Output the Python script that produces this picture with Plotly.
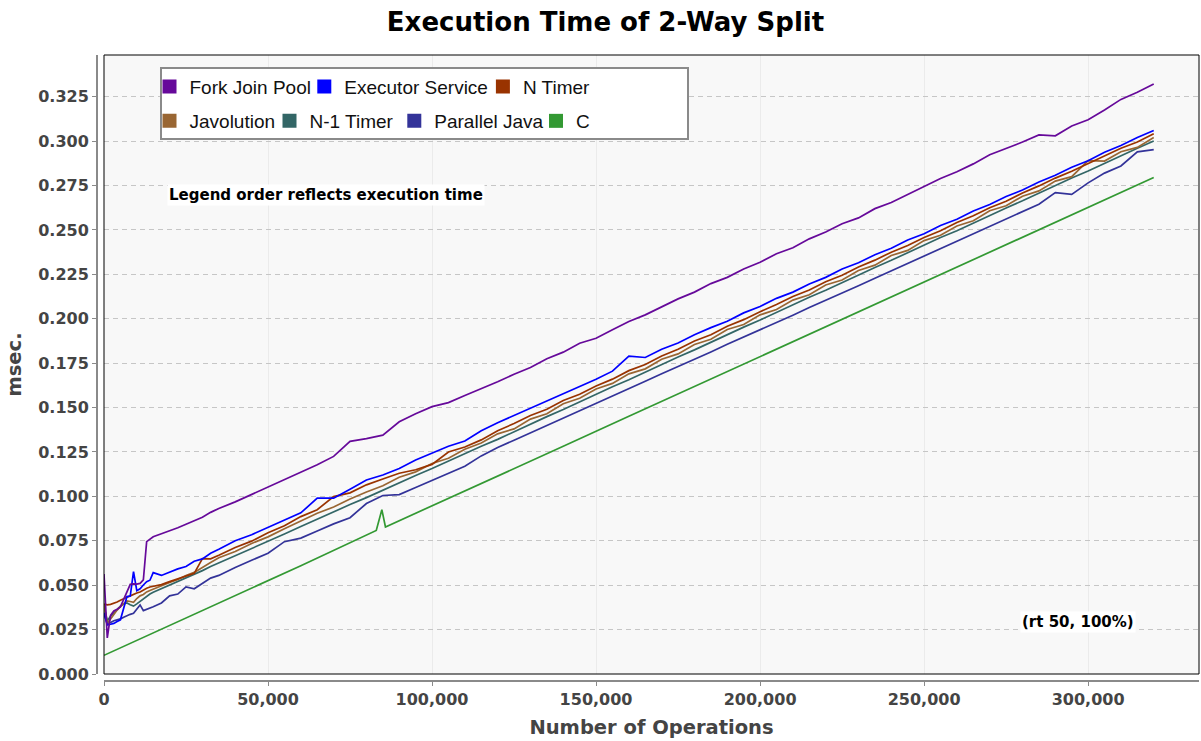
import plotly.graph_objects as go

# ---------------- data ----------------
X_OPS = [0, 1000, 2000, 3000, 4000, 5000, 6000, 7000, 8000, 9000, 10000, 11000,
         12000, 13000, 14000, 15000, 17500, 20000, 22500, 25000, 27500, 30000, 32500,
         35000, 40000, 45000, 50000, 55000, 60000, 65000, 70000, 75000, 80000,
         85000, 90000, 95000, 100000, 105000, 110000, 115000, 120000, 125000, 130000,
         135000, 140000, 145000, 150000, 155000, 160000, 165000, 170000, 175000, 180000,
         185000, 190000, 195000, 200000, 205000, 210000, 215000, 220000, 225000, 230000,
         235000, 240000, 245000, 250000, 255000, 260000, 265000, 270000, 275000, 280000,
         285000, 290000, 295000, 300000, 305000, 310000, 315000, 320000]

FORK_JOIN_POOL = [0.0563, 0.0203, 0.0330, 0.0355, 0.0365, 0.0378, 0.0420, 0.0460, 0.0505, 0.0507, 0.0506, 0.0510,
                  0.0530, 0.0745, 0.0760, 0.0773, 0.0790, 0.0805, 0.0823, 0.0843, 0.0862, 0.0883, 0.0910,
                  0.0932, 0.0969, 0.1011, 0.1054, 0.1096, 0.1140, 0.1178, 0.1225, 0.1310, 0.1325,
                  0.1345, 0.1420, 0.1465, 0.1505, 0.1528, 0.1568, 0.1605, 0.1645, 0.1688, 0.1726,
                  0.1775, 0.1812, 0.1862, 0.1890, 0.1938, 0.1985, 0.2022, 0.2066, 0.2112, 0.2150,
                  0.2198, 0.2233, 0.2280, 0.2318, 0.2366, 0.2400, 0.2450, 0.2488, 0.2535, 0.2568,
                  0.2620, 0.2655, 0.2700, 0.2742, 0.2790, 0.2828, 0.2872, 0.2923, 0.2958, 0.2995,
                  0.3035, 0.3030, 0.3085, 0.3120, 0.3175, 0.3235, 0.3275, 0.3322]

EXECUTOR_SERVICE = [0.0345, 0.0276, 0.0280, 0.0285, 0.0295, 0.0305, 0.0370, 0.0436, 0.0439, 0.0576, 0.0469, 0.0480,
                    0.0501, 0.0520, 0.0528, 0.0571, 0.0555, 0.0575, 0.0592, 0.0605, 0.0635, 0.0648, 0.0680,
                    0.0702, 0.0750, 0.0784, 0.0825, 0.0866, 0.0907, 0.0990, 0.0990, 0.1040, 0.1092,
                    0.1120, 0.1157, 0.1205, 0.1245, 0.1282, 0.1312, 0.1370, 0.1415, 0.1456, 0.1497,
                    0.1540, 0.1577, 0.1622, 0.1659, 0.1705, 0.1790, 0.1782, 0.1828, 0.1864, 0.1910,
                    0.1950, 0.1986, 0.2033, 0.2069, 0.2115, 0.2150, 0.2196, 0.2233, 0.2280, 0.2315,
                    0.2360, 0.2397, 0.2443, 0.2479, 0.2525, 0.2560, 0.2607, 0.2643, 0.2688, 0.2725,
                    0.2770, 0.2808, 0.2853, 0.2890, 0.2938, 0.2975, 0.3020, 0.3060]

N_TIMER = [0.0394, 0.0389, 0.0392, 0.0398, 0.0405, 0.0415, 0.0425, 0.0432, 0.0440, 0.0450, 0.0456, 0.0462,
           0.0475, 0.0483, 0.0490, 0.0494, 0.0503, 0.0520, 0.0535, 0.0550, 0.0567, 0.0650, 0.0648,
           0.0668, 0.0712, 0.0748, 0.0795, 0.0835, 0.0886, 0.0925, 0.0999, 0.1020, 0.1065,
           0.1098, 0.1130, 0.1150, 0.1180, 0.1250, 0.1278, 0.1318, 0.1370, 0.1410, 0.1455,
           0.1490, 0.1540, 0.1575, 0.1622, 0.1660, 0.1708, 0.1742, 0.1790, 0.1828, 0.1875,
           0.1910, 0.1958, 0.1995, 0.2040, 0.2080, 0.2125, 0.2162, 0.2208, 0.2245, 0.2292,
           0.2330, 0.2375, 0.2412, 0.2458, 0.2495, 0.2542, 0.2580, 0.2625, 0.2662, 0.2708,
           0.2748, 0.2792, 0.2830, 0.2873, 0.2915, 0.2960, 0.2995, 0.3042]

JAVOLUTION = [0.0390, 0.0285, 0.0310, 0.0338, 0.0360, 0.0380, 0.0395, 0.0411, 0.0408, 0.0404, 0.0425, 0.0440,
              0.0448, 0.0462, 0.0470, 0.0478, 0.0495, 0.0515, 0.0532, 0.0555, 0.0572, 0.0598, 0.0628,
              0.0655, 0.0690, 0.0735, 0.0772, 0.0818, 0.0860, 0.0905, 0.0940, 0.0985, 0.1025,
              0.1060, 0.1108, 0.1138, 0.1185, 0.1215, 0.1265, 0.1300, 0.1352, 0.1380, 0.1435,
              0.1465, 0.1522, 0.1552, 0.1605, 0.1636, 0.1690, 0.1718, 0.1772, 0.1802, 0.1855,
              0.1885, 0.1940, 0.1968, 0.2022, 0.2052, 0.2105, 0.2135, 0.2190, 0.2218, 0.2272,
              0.2302, 0.2356, 0.2385, 0.2440, 0.2470, 0.2522, 0.2552, 0.2608, 0.2636, 0.2690,
              0.2720, 0.2775, 0.2800, 0.2890, 0.2888, 0.2940, 0.2965, 0.3020]

N_MINUS_1_TIMER = [0.0385, 0.0300, 0.0325, 0.0345, 0.0365, 0.0382, 0.0395, 0.0400, 0.0390, 0.0382, 0.0395, 0.0410,
                   0.0425, 0.0440, 0.0450, 0.0460, 0.0480, 0.0500, 0.0520, 0.0540, 0.0562, 0.0582, 0.0605,
                   0.0625, 0.0667, 0.0706, 0.0749, 0.0788, 0.0830, 0.0872, 0.0911, 0.0954, 0.0993,
                   0.1036, 0.1075, 0.1118, 0.1157, 0.1200, 0.1239, 0.1282, 0.1321, 0.1365, 0.1405,
                   0.1449, 0.1489, 0.1533, 0.1573, 0.1617, 0.1657, 0.1701, 0.1741, 0.1785, 0.1825,
                   0.1869, 0.1909, 0.1953, 0.1993, 0.2037, 0.2077, 0.2121, 0.2161, 0.2205, 0.2245,
                   0.2289, 0.2329, 0.2373, 0.2413, 0.2457, 0.2496, 0.2540, 0.2580, 0.2624, 0.2664,
                   0.2708, 0.2748, 0.2792, 0.2832, 0.2876, 0.2916, 0.2960, 0.3001]

PARALLEL_JAVA = [0.0342, 0.0282, 0.0290, 0.0300, 0.0305, 0.0310, 0.0320, 0.0330, 0.0336, 0.0342, 0.0365, 0.0389,
                 0.0357, 0.0363, 0.0370, 0.0379, 0.0400, 0.0440, 0.0450, 0.0490, 0.0480, 0.0510, 0.0540,
                 0.0555, 0.0600, 0.0640, 0.0680, 0.0745, 0.0765, 0.0805, 0.0845, 0.0880, 0.0960,
                 0.1005, 0.1010, 0.1050, 0.1090, 0.1130, 0.1170, 0.1228, 0.1275, 0.1316, 0.1357,
                 0.1400, 0.1440, 0.1483, 0.1523, 0.1566, 0.1606, 0.1648, 0.1690, 0.1730, 0.1773,
                 0.1813, 0.1856, 0.1896, 0.1938, 0.1980, 0.2020, 0.2063, 0.2103, 0.2146, 0.2186,
                 0.2228, 0.2270, 0.2312, 0.2354, 0.2395, 0.2438, 0.2478, 0.2520, 0.2562, 0.2603,
                 0.2645, 0.2710, 0.2700, 0.2765, 0.2820, 0.2860, 0.2940, 0.2952]

C_OPS = [0, 20000, 40000, 60000, 83000, 84700, 85800, 100000, 120000, 140000, 160000,
         180000, 200000, 225000, 250000, 280000, 300000, 320000]
C_MS = [0.0105, 0.0273, 0.0441, 0.0610, 0.0808, 0.0925, 0.0828, 0.0946, 0.1114, 0.1282, 0.1451,
        0.1619, 0.1787, 0.1998, 0.2208, 0.2460, 0.2628, 0.2795]

NAMES = ["Fork Join Pool", "Executor Service", "N Timer", "Javolution",
         "N-1 Timer", "Parallel Java", "C"]
COLORS = ["#66099a", "#0000ff", "#993300", "#996633", "#336666", "#333399", "#339933"]
Y_TICKS = [0.000, 0.025, 0.050, 0.075, 0.100, 0.125, 0.150, 0.175,
           0.200, 0.225, 0.250, 0.275, 0.300, 0.325]
X_TICKS = [0, 50000, 100000, 150000, 200000, 250000, 300000]

# ---------------- geometry (pixels of the 1201x741 page) ----------------
W, H = 1201, 741
ML, MR, MT, MB = 97, 2, 55, 60
PW, PH = W - ML - MR, H - MT - MB


def px_x(p):
    return (p - ML) / PW


def px_y(p):
    return (H - MB - p) / PH


series_x = [X_OPS] * 6 + [C_OPS]
series_y = [FORK_JOIN_POOL, EXECUTOR_SERVICE, N_TIMER, JAVOLUTION,
            N_MINUS_1_TIMER, PARALLEL_JAVA, C_MS]

fig = go.Figure()

# lines: last series drawn first so the first series sits on top
for i in reversed(range(len(NAMES))):
    fig.add_trace(go.Scatter(
        x=series_x[i], y=series_y[i], mode="lines", name=NAMES[i],
        line=dict(color=COLORS[i], width=1.7), showlegend=False,
        hoverinfo="x+y+name"))

# legend entries (square swatches), one legend per entry to reproduce the layout
LEG_SQ_X = [172.5, 327.3, 505.9, 172.5, 292.5, 417.3, 559.0]
LEG_ROW_Y = [86.7, 86.7, 86.7, 121.0, 121.0, 121.0, 121.0]
legend_layouts = {}
for i, name in enumerate(NAMES):
    key = "legend" if i == 0 else f"legend{i + 1}"
    fig.add_trace(go.Scatter(
        x=[None], y=[None], mode="markers", name=name,
        marker=dict(symbol="square", size=14, color=COLORS[i], line=dict(width=0)),
        legend=key, showlegend=True))
    legend_layouts[key] = dict(
        x=px_x(LEG_SQ_X[i] - 23), y=px_y(LEG_ROW_Y[i]),
        xanchor="left", yanchor="middle", orientation="h",
        bgcolor="rgba(0,0,0,0)", borderwidth=0, itemwidth=30,
        font=dict(family="Liberation Sans, Arial, sans-serif", size=19, color="#111111"),
        itemclick=False, itemdoubleclick=False)

tick_font = dict(family="DejaVu Sans", size=16, color="#444444", weight="bold")
title_font = dict(family="DejaVu Sans", size=19.5, color="#444444", weight="bold")

fig.update_layout(
    width=W, height=H,
    margin=dict(l=ML, r=MR, t=MT, b=MB, pad=0),
    paper_bgcolor="white",
    plot_bgcolor="#f8f8f8",
    title=dict(text="Execution Time of 2-Way Split", xref="container", yref="container",
               x=605.5 / W, y=1 - 22 / H, xanchor="center", yanchor="middle",
               font=dict(family="DejaVu Sans", size=26, color="#000000", weight="bold")),
    xaxis=dict(
        domain=[px_x(104), 1], anchor="free", position=0,
        range=[0, 333800], tickmode="array", tickvals=X_TICKS, tickformat=",d",
        showline=True, linecolor="#8a8a8a", linewidth=2,
        ticks="outside", ticklen=4, tickwidth=1, tickcolor="#8a8a8a",
        showgrid=True, gridcolor="#ebebeb", gridwidth=1, zeroline=False,
        tickfont=tick_font,
        title=dict(text="Number of Operations", font=title_font, standoff=11)),
    yaxis=dict(
        domain=[px_y(674), 1], anchor="free", position=0,
        range=[0, 0.3485], tickmode="array", tickvals=Y_TICKS, tickformat=".3f",
        showline=True, linecolor="#8a8a8a", linewidth=2,
        ticks="outside", ticklen=4, tickwidth=1, tickcolor="#8a8a8a",
        showgrid=True, gridcolor="#c6c6c6", gridwidth=1, griddash="5px,4px",
        zeroline=False, tickfont=tick_font,
        title=dict(text="msec.", font=title_font, standoff=10)),
    shapes=[
        dict(type="rect", xref="x domain", yref="y domain", x0=0, x1=1, y0=0, y1=1,
             line=dict(color="#000000", width=1), fillcolor="rgba(0,0,0,0)", layer="above"),
        dict(type="rect", xref="paper", yref="paper",
             x0=px_x(161), x1=px_x(688), y0=px_y(139), y1=px_y(68),
             line=dict(color="#8a8a8a", width=2), fillcolor="white", layer="above"),
    ],
    annotations=[
        dict(text="Legend order reflects execution time", xref="paper", yref="paper",
             x=px_x(326), y=px_y(195), xanchor="center", yanchor="middle", showarrow=False,
             bgcolor="white", font=dict(family="DejaVu Sans", size=15, color="#000000", weight="bold")),
        dict(text="(rt 50, 100%)", xref="paper", yref="paper",
             x=px_x(1078), y=px_y(621.7), xanchor="center", yanchor="middle", showarrow=False,
             bgcolor="white", font=dict(family="DejaVu Sans", size=15, color="#000000", weight="bold")),
    ],
    **legend_layouts,
)

fig.write_html("out.html",
               config={"displayModeBar": False},
               post_script="document.body.style.margin='0';document.body.style.padding='0';")
